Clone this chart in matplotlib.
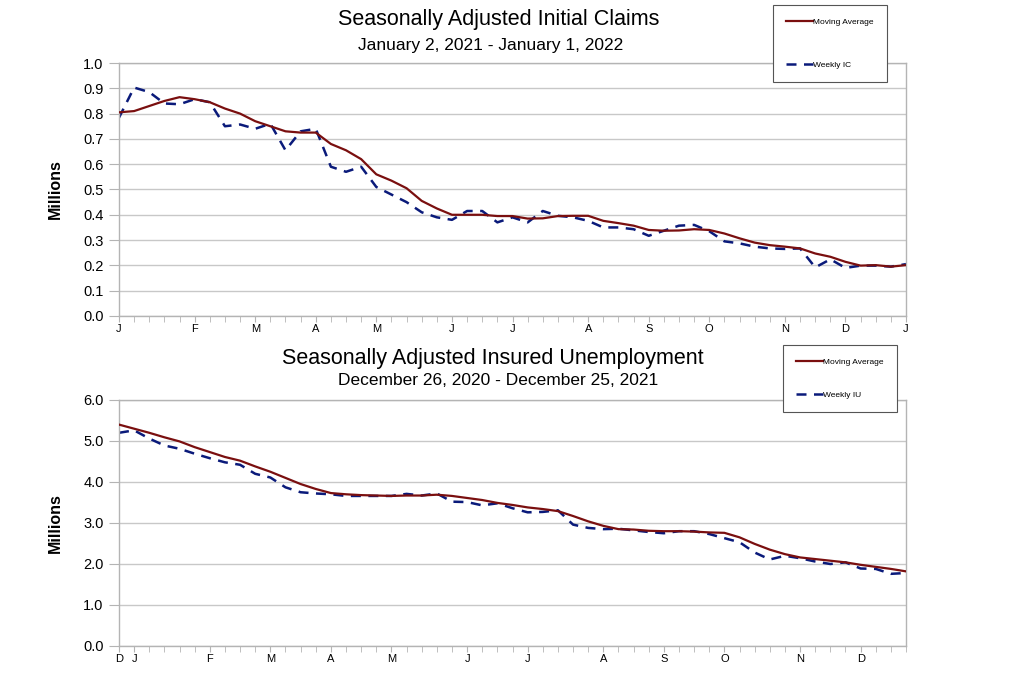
import matplotlib
matplotlib.use("Agg")
import matplotlib.pyplot as plt
from matplotlib.lines import Line2D
import numpy as np

plt.rcParams['font.family'] = ['Liberation Sans', 'DejaVu Sans']

# ---------------- data ----------------
ic_weekly = [0.784, 0.903, 0.885, 0.840, 0.837, 0.857, 0.845, 0.750, 0.757, 0.740,
             0.760, 0.655, 0.730, 0.740, 0.590, 0.570, 0.590, 0.510, 0.480, 0.450,
             0.410, 0.390, 0.380, 0.415, 0.415, 0.370, 0.390, 0.370, 0.415, 0.396,
             0.390, 0.376, 0.350, 0.350, 0.343, 0.317, 0.337, 0.357, 0.360, 0.335,
             0.295, 0.287, 0.274, 0.267, 0.265, 0.267, 0.192, 0.224, 0.190, 0.199,
             0.199, 0.195, 0.205]
ic_ma = [0.805, 0.810, 0.830, 0.850, 0.865, 0.857, 0.845, 0.820, 0.800, 0.770,
         0.750, 0.730, 0.725, 0.725, 0.680, 0.655, 0.620, 0.560, 0.535, 0.505,
         0.455, 0.425, 0.400, 0.400, 0.400, 0.395, 0.395, 0.385, 0.386, 0.395,
         0.396, 0.396, 0.376, 0.367, 0.357, 0.340, 0.337, 0.338, 0.343, 0.340,
         0.326, 0.307, 0.290, 0.280, 0.274, 0.267, 0.247, 0.234, 0.214, 0.199,
         0.201, 0.195, 0.201]
ic_tick_weeks = [0, 5, 9, 13, 17, 22, 26, 31, 35, 39, 44, 48, 52]
ic_tick_labels = ["J", "F", "M", "A", "M", "J", "J", "A", "S", "O", "N", "D", "J"]

iu_weekly = [5.20, 5.26, 5.06, 4.89, 4.81, 4.69, 4.58, 4.48, 4.42, 4.20,
             4.11, 3.87, 3.75, 3.72, 3.70, 3.66, 3.66, 3.66, 3.66, 3.71,
             3.67, 3.72, 3.52, 3.51, 3.43, 3.48, 3.36, 3.26, 3.27, 3.31,
             2.96, 2.88, 2.85, 2.86, 2.82, 2.78, 2.75, 2.80, 2.80, 2.73,
             2.63, 2.53, 2.28, 2.11, 2.20, 2.14, 2.06, 2.00, 2.04, 1.89,
             1.88, 1.76, 1.78]
iu_ma = [5.40, 5.30, 5.20, 5.09, 4.99, 4.85, 4.73, 4.61, 4.52, 4.38,
         4.25, 4.10, 3.95, 3.83, 3.73, 3.70, 3.68, 3.67, 3.66, 3.67,
         3.67, 3.69, 3.66, 3.61, 3.56, 3.49, 3.44, 3.38, 3.34, 3.29,
         3.17, 3.04, 2.93, 2.85, 2.84, 2.81, 2.80, 2.80, 2.79, 2.77,
         2.76, 2.65, 2.49, 2.35, 2.24, 2.16, 2.12, 2.08, 2.04, 1.98,
         1.93, 1.88, 1.82]
iu_tick_weeks = [0, 1, 6, 10, 14, 18, 23, 27, 32, 36, 40, 45, 49]
iu_tick_labels = ["D", "J", "F", "M", "A", "M", "J", "J", "A", "S", "O", "N", "D"]

MA_COLOR = "#7a0f0f"
WK_COLOR = "#0a1a7a"
GRID = "#c8c8c8"
SPINE = "#b4b4b4"

fig = plt.figure(figsize=(10.24, 6.82), dpi=100)

def style_axes(ax, ymax, ystep, fmt, tick_weeks, tick_labels, n):
    ax.set_xlim(0, n - 1)
    ax.set_ylim(0, ymax)
    vals = np.arange(0, ymax + ystep / 2, ystep)
    ax.set_yticks(vals)
    ax.set_yticklabels([fmt.format(v) for v in vals], fontsize=10.5)
    ax.set_xticks(tick_weeks)
    ax.set_xticklabels(tick_labels, fontsize=8)
    ax.set_xticks(np.arange(n), minor=True)
    ax.tick_params(axis='x', which='both', direction='out', length=4, color=SPINE, pad=2)
    ax.tick_params(axis='y', which='both', length=7, color=SPINE, pad=4)
    ax.grid(axis='y', color=GRID, linewidth=1.0)
    ax.set_axisbelow(True)
    for s in ax.spines.values():
        s.set_color(SPINE)
        s.set_linewidth(1.0)
    ax.set_ylabel("Millions", fontsize=11.5, fontweight='bold')
    ax.yaxis.set_label_coords(-0.071, 0.5)

def make_legend(labels, handles, anchor, spacing):
    leg = fig.legend(handles, labels, loc='upper left', bbox_to_anchor=anchor,
                     borderaxespad=0.0, fontsize=6, labelspacing=spacing,
                     handlelength=3.2, handletextpad=0.0, borderpad=1.6,
                     fancybox=False, framealpha=1, edgecolor="#555555")
    leg.get_frame().set_linewidth(0.8)
    return leg

# ---------- top chart ----------
ax1 = fig.add_axes([0.1162, 0.5367, 0.7686, 0.3709])
x1 = np.arange(len(ic_ma))
ax1.plot(x1, ic_ma, color=MA_COLOR, lw=1.6, zorder=3)
ax1.plot(x1, ic_weekly, color=WK_COLOR, lw=1.8, dashes=(4, 3), zorder=2)
style_axes(ax1, 1.0, 0.1, "{:.1f}", ic_tick_weeks, ic_tick_labels, len(ic_ma))

fig.text(0.487, 0.972, "Seasonally Adjusted Initial Claims", ha='center', va='center', fontsize=15.5)
fig.text(0.479, 0.933, "January 2, 2021 - January 1, 2022", ha='center', va='center', fontsize=12.5)

h_ma = Line2D([], [], color=MA_COLOR, lw=1.6)
h_ic = Line2D([], [], color=WK_COLOR, lw=1.8, dashes=(4, 3))
make_legend(["Moving Average", "Weekly IC"], [h_ma, h_ic], (0.755, 0.993), 4.2)

# ---------- bottom chart ----------
ax2 = fig.add_axes([0.1162, 0.0528, 0.7686, 0.3607])
x2 = np.arange(len(iu_ma))
ax2.plot(x2, iu_ma, color=MA_COLOR, lw=1.6, zorder=3)
ax2.plot(x2, iu_weekly, color=WK_COLOR, lw=1.8, dashes=(4, 3), zorder=2)
style_axes(ax2, 6.0, 1.0, "{:.1f}", iu_tick_weeks, iu_tick_labels, len(iu_ma))

fig.text(0.481, 0.474, "Seasonally Adjusted Insured Unemployment", ha='center', va='center', fontsize=15.5)
fig.text(0.486, 0.442, "December 26, 2020 - December 25, 2021", ha='center', va='center', fontsize=12.5)

h_iu = Line2D([], [], color=WK_COLOR, lw=1.8, dashes=(4, 3))
make_legend(["Moving Average", "Weekly IU"], [h_ma, h_iu], (0.7646, 0.4941), 3.0)

fig.savefig("out.png", dpi=100)
